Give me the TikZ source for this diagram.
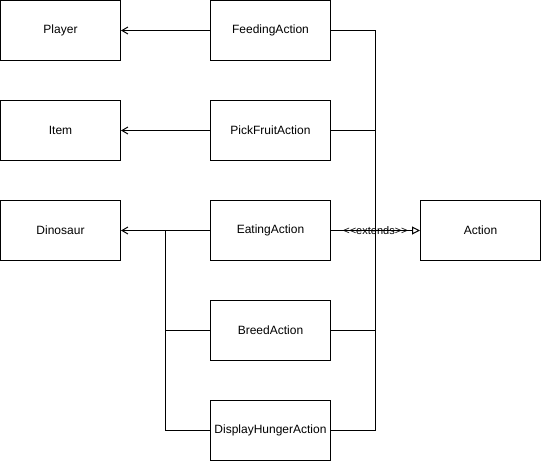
\documentclass[tikz,border=0pt]{standalone}
\usepackage{fontspec}
\setmainfont{Liberation Sans}
\usetikzlibrary{arrows.meta}

\begin{document}
\begin{tikzpicture}[x=1pt,y=-1pt,
  box/.style={draw, line width=1pt, minimum width=120pt, minimum height=60pt,
    inner sep=0pt, font=\fontsize{12}{14}\selectfont},
  link/.style={line width=1pt},
  uses/.style={link, -{Straight Barb[length=6pt,width=7pt]}},
  extends/.style={link, -{Triangle[open,length=8pt,width=8pt]}}]

\useasboundingbox (0,0) rectangle (541,461);

%% boxes
\node[box] (player) at (60.5,30.5) {Player};
\node[box] (item) at (60.5,130.5) {Item};
\node[box] (dinosaur) at (60.5,230.5) {Dinosaur};
\node[box] (feeding) at (270.5,30.5) {FeedingAction};
\node[box] (pickfruit) at (270.5,130.5) {PickFruitAction};
\node[box] (eating) at (270.5,230.5) {EatingAction};
\node[box] (breed) at (270.5,330.5) {BreedAction};
\node[box] (hunger) at (270.5,430.5) {DisplayHungerAction};
\node[box] (action) at (480.5,230.5) {Action};

\coordinate (rbus) at (375.5,30.5);
\coordinate (lbus) at (165.5,230.5);

%%% edges
\draw[uses] (feeding) -- (player);
\draw[uses] (pickfruit) -- (item);
\draw[uses] (eating) -- (dinosaur);
\draw[link] (lbus) |- (hunger.west);
\draw[link] (breed.west) -- (breed.west -| lbus);

\draw[link] (feeding.east) -- (rbus) |- (hunger.east);
\draw[link] (pickfruit.east) -- (pickfruit.east -| rbus);
\draw[link] (breed.east) -- (breed.east -| rbus);
\draw[extends] (eating) -- node[font=\fontsize{11}{13}\selectfont, inner sep=0pt]
  {<\kern0pt<extends>\kern0pt>} (action);

\end{tikzpicture}
\end{document}
